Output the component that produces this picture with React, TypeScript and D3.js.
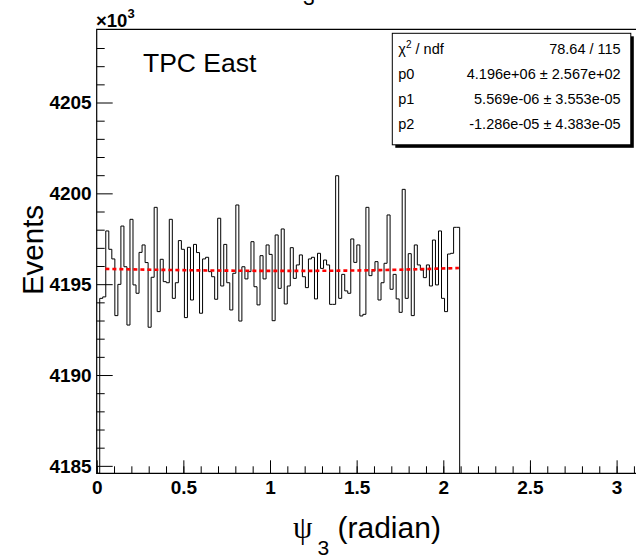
import { useRef, useEffect } from "react";
import * as d3 from "d3";

// histogram contents (x10^3 events), 120 bins of 1 degree over [0, 2pi/3]
const binValues = [
  4183.0, 4194.22, 4194.3, 4197.93, 4196.92, 4196.39, 4193.27, 4194.99, 4198.2, 4195.96,
  4192.75, 4198.57, 4194.96, 4194.5, 4196.75, 4197.16, 4196.19, 4192.63, 4195.38, 4199.23,
  4193.49, 4196.37, 4195.14, 4195.08, 4198.57, 4194.22, 4195.08, 4197.4, 4196.92, 4193.16,
  4197.03, 4194.13, 4197.19, 4196.74, 4193.4, 4196.39, 4196.48, 4195.69, 4195.41, 4194.17,
  4198.63, 4194.9, 4197.19, 4195.08, 4193.58, 4195.6, 4199.36, 4192.97, 4195.96, 4195.29,
  4195.69, 4197.34, 4194.86, 4193.86, 4196.57, 4195.29, 4197.16, 4196.64, 4192.99, 4197.71,
  4194.77, 4198.04, 4193.91, 4194.9, 4197.01, 4195.32, 4196.06, 4196.61, 4195.41, 4194.81,
  4196.39, 4196.48, 4194.19, 4196.7, 4195.87, 4196.33, 4196.06, 4193.89, 4193.89, 4200.97,
  4194.22, 4195.54, 4194.63, 4194.5, 4197.49, 4196.2, 4197.16, 4193.25, 4193.34, 4199.23,
  4195.47, 4195.73, 4196.24, 4194.13, 4195.08, 4196.15, 4198.81, 4194.72, 4195.54, 4194.19,
  4193.45, 4200.22, 4194.22, 4196.68, 4193.27, 4197.16, 4196.06, 4195.78, 4195.36, 4196.06,
  4194.9, 4197.43, 4194.96, 4197.93, 4194.22, 4193.49, 4196.66, 4196.7, 4198.13, 4198.13,
];
const binWidth = Math.PI / 180;

// fit curve
const fitX = [0.05, 0.6, 1.1, 1.6, 2.09];
const fitY = [4195.84, 4195.76, 4195.73, 4195.77, 4195.89];

const xMajorTicks = [0, 0.5, 1, 1.5, 2, 2.5, 3];
const xMinorTicks = d3.range(0, 32).map((i) => i / 10);
const yMajorTicks = [4185, 4190, 4195, 4200, 4205];
const yMinorTicks = d3.range(4185, 4209);

const statsLabels = ["p0", "p1", "p2"];
const statsValues = [
  "78.64 / 115",
  "4.196e+06 ± 2.567e+02",
  "5.569e-06 ± 3.553e-05",
  "-1.286e-05 ± 4.383e-05",
];

const FONT = "'Liberation Sans', Arial, Helvetica, sans-serif";
const SERIF = "'Liberation Serif', 'Times New Roman', serif";

export default function App() {
  const ref = useRef<SVGSVGElement>(null);

  useEffect(() => {
    const settings = {
      width: 636,
      height: 556,
      left: 96.7,
      top: 29.3,
      bottom: 473.3,
    };

    const x = d3
      .scaleLinear()
      .domain([0, Math.PI])
      .range([settings.left, settings.left + Math.PI * 173.3]);
    const y = d3
      .scaleLinear()
      .domain([4184.59, 4209.03])
      .range([settings.bottom, settings.top])
      .clamp(true);

    const svg = d3.select(ref.current);
    svg.selectAll("*").remove();
    svg.attr("font-family", FONT);

    svg
      .append("rect")
      .attr("width", settings.width)
      .attr("height", settings.height)
      .attr("fill", "#fff");

    // histogram outline
    const pts: [number, number][] = [[0, y.domain()[0]]];
    binValues.forEach((v, i) => pts.push([i * binWidth, v]));
    pts.push([binValues.length * binWidth, y.domain()[0]]);
    const step = d3
      .line<[number, number]>()
      .x((d) => x(d[0]))
      .y((d) => y(d[1]))
      .curve(d3.curveStepAfter);
    svg
      .append("path")
      .attr("d", step(pts))
      .attr("fill", "none")
      .attr("stroke", "#000")
      .attr("stroke-width", 1);

    // fit
    const fit = d3
      .line<number>()
      .x((d, i) => x(fitX[i]))
      .y((d) => y(d))
      .curve(d3.curveMonotoneX);
    svg
      .append("path")
      .attr("d", fit(fitY))
      .attr("fill", "none")
      .attr("stroke", "#ff0000")
      .attr("stroke-width", 2.6)
      .attr("stroke-dasharray", "4,3");

    // x axis
    const xMinor = (g) =>
      g
        .attr("transform", `translate(0,${settings.bottom})`)
        .call(d3.axisBottom(x).tickValues(xMinorTicks).tickSize(-7).tickFormat(() => ""))
        .call((g) => g.select(".domain").remove());
    const xMajor = (g) =>
      g
        .attr("transform", `translate(0,${settings.bottom})`)
        .call(
          d3
            .axisBottom(x)
            .tickValues(xMajorTicks)
            .tickSize(-13)
            .tickPadding(7)
            .tickFormat((d) => `${d}`)
        )
        .call((g) => g.select(".domain").remove())
        .call((g) =>
          g
            .selectAll("text")
            .attr("font-family", FONT)
            .attr("font-size", 19)
            .attr("font-weight", "bold")
            .attr("fill", "#000")
        );
    const yMinor = (g) =>
      g
        .attr("transform", `translate(${settings.left},0)`)
        .call(
          d3
            .axisLeft(y)
            .tickValues(yMinorTicks.filter((v) => yMajorTicks.indexOf(v) < 0))
            .tickSize(-8)
            .tickFormat(() => "")
        )
        .call((g) => g.select(".domain").remove());
    const yMajor = (g) =>
      g
        .attr("transform", `translate(${settings.left},0)`)
        .call(
          d3
            .axisLeft(y)
            .tickValues(yMajorTicks)
            .tickSize(-16)
            .tickPadding(5)
            .tickFormat((d) => `${d}`)
        )
        .call((g) => g.select(".domain").remove())
        .call((g) =>
          g
            .selectAll("text")
            .attr("font-family", FONT)
            .attr("font-size", 19)
            .attr("font-weight", "bold")
            .attr("fill", "#000")
            .attr("dy", "0.34em")
        );

    svg.append("g").call(xMinor);
    svg.append("g").call(xMajor);
    svg.append("g").call(yMinor);
    svg.append("g").call(yMajor);
    svg.selectAll(".tick line").attr("stroke", "#000");

    // frame
    svg
      .append("path")
      .attr(
        "d",
        `M${x(Math.PI) + 2},${settings.top}H${settings.left}V${settings.bottom}H${x(Math.PI) + 2}`
      )
      .attr("fill", "none")
      .attr("stroke", "#000")
      .attr("stroke-width", 1.2);

    // x10^3
    const mult = svg.append("text").attr("x", 96).attr("y", 26.5).attr("font-weight", "bold");
    mult.append("tspan").attr("font-size", 18.5).text("×10");
    mult.append("tspan").attr("font-size", 13).attr("dy", -8.5).text("3");

    // label
    svg
      .append("text")
      .attr("x", 143)
      .attr("y", 71.5)
      .attr("font-size", 26.5)
      .text("TPC East");

    // title, mostly off the page
    svg
      .append("text")
      .attr("x", 281)
      .attr("y", -12)
      .attr("font-family", SERIF)
      .attr("font-size", 30)
      .text("ψ");
    svg.append("text").attr("x", 303).attr("y", 5).attr("font-size", 21).text("3");

    // axis titles
    svg
      .append("text")
      .attr("transform", "translate(42.5,250) rotate(-90)")
      .attr("text-anchor", "middle")
      .attr("font-size", 29.5)
      .text("Events");
    svg
      .append("text")
      .attr("x", 293)
      .attr("y", 538)
      .attr("font-family", SERIF)
      .attr("font-size", 31)
      .text("ψ");
    svg.append("text").attr("x", 317.5).attr("y", 554.5).attr("font-size", 21).text("3");
    svg
      .append("text")
      .attr("x", 337.5)
      .attr("y", 538)
      .attr("font-size", 30)
      .text("(radian)");

    // stats box
    const box = { x: 392.3, y: 33.3, w: 238.5, h: 111.5 };
    svg
      .append("rect")
      .attr("x", box.x + 3)
      .attr("y", box.y + 3)
      .attr("width", box.w)
      .attr("height", box.h)
      .attr("fill", "#000");
    svg
      .append("rect")
      .attr("x", box.x)
      .attr("y", box.y)
      .attr("width", box.w)
      .attr("height", box.h)
      .attr("fill", "#fff")
      .attr("stroke", "#000")
      .attr("stroke-width", 1);

    const rowY = (i) => 54 + i * 25;
    const chi = svg
      .append("text")
      .attr("x", 398.3)
      .attr("y", rowY(0))
      .attr("font-size", 14.5);
    chi.append("tspan").text("χ");
    chi.append("tspan").attr("font-size", 10).attr("dy", -6).text("2");
    chi.append("tspan").attr("dy", 6).text(" / ndf");
    statsLabels.forEach((t, i) =>
      svg
        .append("text")
        .attr("x", 398.3)
        .attr("y", rowY(i + 1))
        .attr("font-size", 14.5)
        .text(t)
    );
    statsValues.forEach((t, i) =>
      svg
        .append("text")
        .attr("x", 620.7)
        .attr("y", rowY(i))
        .attr("text-anchor", "end")
        .attr("font-size", 14.5)
        .text(t)
    );
  }, []);

  return (
    <svg
      ref={ref}
      width={636}
      height={556}
      style={{ position: "absolute", left: 0, top: 0, display: "block" }}
    />
  );
}
